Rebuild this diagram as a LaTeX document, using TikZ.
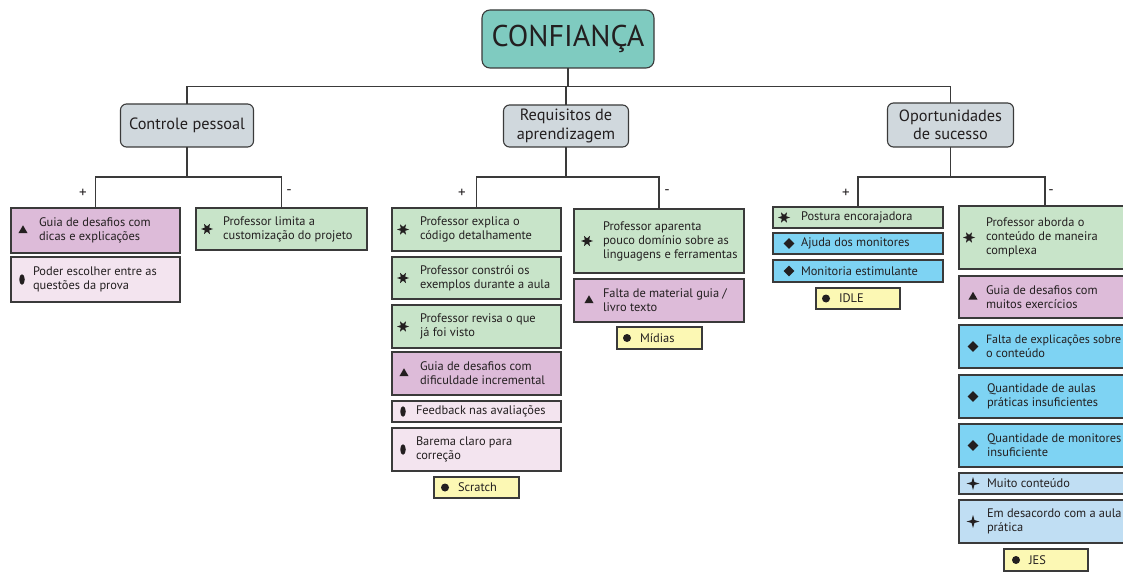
\documentclass[tikz,border=0pt]{standalone}
\usepackage{fontspec}
\setmainfont{PT Sans}
\usetikzlibrary{shapes.geometric}
\definecolor{ink}{HTML}{231F20}
\definecolor{edge}{HTML}{3A3A3A}
\definecolor{cteal}{HTML}{7FCBC0}
\definecolor{cgray}{HTML}{D0D8DD}
\definecolor{cpurple}{HTML}{DDBBD9}
\definecolor{cpink}{HTML}{F3E4EF}
\definecolor{cgreen}{HTML}{C8E4C9}
\definecolor{cblue}{HTML}{7ED3F3}
\definecolor{clblue}{HTML}{C0DEF3}
\definecolor{cyellow}{HTML}{FCF8B4}
\tikzset{
  box/.style={draw=edge, line width=1.1pt, rectangle, inner sep=0pt, outer sep=0pt},
  cat/.style={draw=edge, line width=1.1pt, rounded corners=6pt, fill=cgray, align=center,
    inner sep=0pt, outer sep=0pt, font=\fontsize{16.3}{18.5}\selectfont, text=ink},
  txt/.style={align=left, inner sep=0pt, outer sep=0pt, text=ink, font=\fontsize{12.4}{14}\selectfont},
  sgn/.style={inner sep=0pt, text=ink, font=\fontsize{15}{17}\selectfont},
  conn/.style={draw=edge, line width=1.1pt},
  tri/.style={regular polygon, regular polygon sides=3, fill=ink, inner sep=0pt, minimum size=10.5pt},
  ell/.style={ellipse, fill=ink, inner sep=0pt, minimum width=5.5pt, minimum height=10.5pt},
  dot/.style={circle, fill=ink, inner sep=0pt, minimum size=8pt},
  dia/.style={diamond, fill=ink, inner sep=0pt, minimum size=11pt},
  stsix/.style={star, star points=6, star point ratio=2.3, shape border rotate=30, fill=ink, inner sep=0pt, minimum size=12pt},
  stfour/.style={star, star points=4, star point ratio=3.2, fill=ink, inner sep=0pt, minimum size=13pt},
  fpurple/.style={fill=cpurple}, fpink/.style={fill=cpink}, fgreen/.style={fill=cgreen},
  fblue/.style={fill=cblue}, flblue/.style={fill=clblue}, fyellow/.style={fill=cyellow}
}
% name, fill style, x,y (top-left), w, h, icon style, icon offset, text offset, text
\newcommand\bx[9]{%
  \node[box,#2,minimum width=#4pt,minimum height=#5pt,anchor=north west] (#1) at (#3) {};
  \node[#6] (#1i) at ([xshift=#7pt]#1.west) {};
  \bxtext{#1}{#8}{#9}}
\newcommand\bxtext[3]{\node[txt,anchor=west] (#1t) at ([xshift=#2pt]#1.west) {#3};}
\begin{document}
\begin{tikzpicture}[x=1pt,y=-1pt]
\useasboundingbox (0,0) rectangle (1123,572);
\clip (0,0) rectangle (1123,572);
\fill[white] (0,0) rectangle (1123,572);

% root and categories
\node[draw=edge, line width=1.1pt, rounded corners=8pt, fill=cteal, minimum width=172pt, minimum height=58pt,
  inner sep=0pt, outer sep=0pt, text=ink, font=\fontsize{30}{32}\selectfont] (conf) at (568,39) {CONFIANÇA};
\node[cat, minimum width=133pt, minimum height=43pt] (cp) at (187,125.5) {Controle pessoal};
\node[cat, minimum width=125pt, minimum height=42pt] (rq) at (566,126) {Requisitos de\\aprendizagem};
\node[cat, minimum width=126pt, minimum height=44pt] (op) at (950.5,125) {Oportunidades\\de sucesso};

\coordinate (bar) at (568,86.5);
\draw[conn] (cp.north) |- (bar) -| (op.north);
\draw[conn] (conf.south) -- (bar);
\draw[conn] (bar) -| (rq.north);

% left column
\bx{la}{fpurple}{11,208}{169}{45}{tri}{12}{28}{Guia de desafios com\\dicas e explicações}
\bx{lb}{fpink}{11,257}{169}{45}{ell}{11}{22}{Poder escolher entre as\\questões da prova}
\bx{lc}{fgreen}{196,208}{171}{42}{stsix}{11}{27}{Professor limita a\\customização do projeto}

% middle column
\bx{ma}{fgreen}{392,208}{169}{43}{stsix}{11}{28}{Professor explica o\\código detalhamente}
\bx{mb}{fgreen}{392,257}{169}{42}{stsix}{11}{28}{Professor constrói os\\exemplos durante a aula}
\bx{mc}{fgreen}{392,305}{169}{43}{stsix}{11}{28}{Professor revisa o que\\já foi visto}
\bx{md}{fpurple}{392,352}{169}{43}{tri}{12}{28}{Guia de desafios com\\dificuldade incremental}
\bx{me}{fpink}{392,401}{169}{21}{ell}{11}{24}{Feedback nas avaliações}
\bx{mf}{fpink}{392,428}{169}{43}{ell}{11}{24}{Barema claro para\\correção}
\bx{mg}{fyellow}{434,477}{85}{21}{dot}{11}{24}{Scratch}
\bx{na}{fgreen}{574,209}{170}{64}{stsix}{13}{29}{Professor aparenta\\pouco domínio sobre as\\linguagens e ferramentas}
\bx{nb}{fpurple}{574,279}{170}{43}{tri}{15}{29}{Falta de material guia /\\livro texto}
\bx{nc}{fyellow}{617,327}{85}{22}{dot}{10}{23}{Mídias}

% right column
\bx{ra}{fgreen}{773,207}{170}{21}{stsix}{11}{28}{Postura encorajadora}
\bx{rb}{fblue}{773,233}{170}{21}{dia}{16}{28}{Ajuda dos monitores}
\bx{rc}{fblue}{773,260}{170}{22}{dia}{16}{28}{Monitoria estimulante}
\bx{rd}{fyellow}{816,288}{84}{21}{dot}{10}{23}{IDLE}
\bx{sa}{fgreen}{959,206}{172}{63}{stsix}{10}{27}{Professor aborda o\\conteúdo de maneira\\complexa}
\bx{sb}{fpurple}{959,276}{172}{42}{tri}{14}{27}{Guia de desafios com\\muitos exercícios}
\bx{sc}{fblue}{959,325}{172}{43}{dia}{14}{27}{\fontsize{12}{14}\selectfont Falta de explicações sobre\\o conteúdo}
\bx{sd}{fblue}{959,375}{172}{43}{dia}{14}{28}{Quantidade de aulas\\práticas insuficientes}
\bx{se}{fblue}{959,424}{172}{43}{dia}{14}{28}{Quantidade de monitores\\insuficiente}
\bx{sf}{flblue}{959,473}{172}{21}{stfour}{14}{28}{Muito conteúdo}
\bx{sg}{flblue}{959,500}{172}{43}{stfour}{14}{28}{Em desacordo com a aula\\prática}
\bx{sh}{fyellow}{1004,549}{84}{22}{dot}{12}{25}{JES}

% branch connectors
\coordinate (cpb) at (cp.south |- 0,177);
\coordinate (rqb) at (rq.south |- 0,177);
\coordinate (opb) at (op.south |- 0,177);
\draw[conn] (cp.south) -- (cpb);
\draw[conn] (rq.south) -- (rqb);
\draw[conn] (op.south) -- (opb);
\draw[conn] (la.north) |- (cpb) -| (lc.north);
\draw[conn] (ma.north) |- (rqb) -| (na.north);
\draw[conn] (ra.north) |- (opb) -| (sa.north);

% signs
\node[sgn] (p1) at (83,193) {+};
\node[sgn] (m1) at (289,192) {-};
\node[sgn] (p2) at (462,193) {+};
\node[sgn] (m2) at (667,192) {-};
\node[sgn] (p3) at (846,193) {+};
\node[sgn] (m3) at (1051,192) {-};
\end{tikzpicture}
\end{document}
